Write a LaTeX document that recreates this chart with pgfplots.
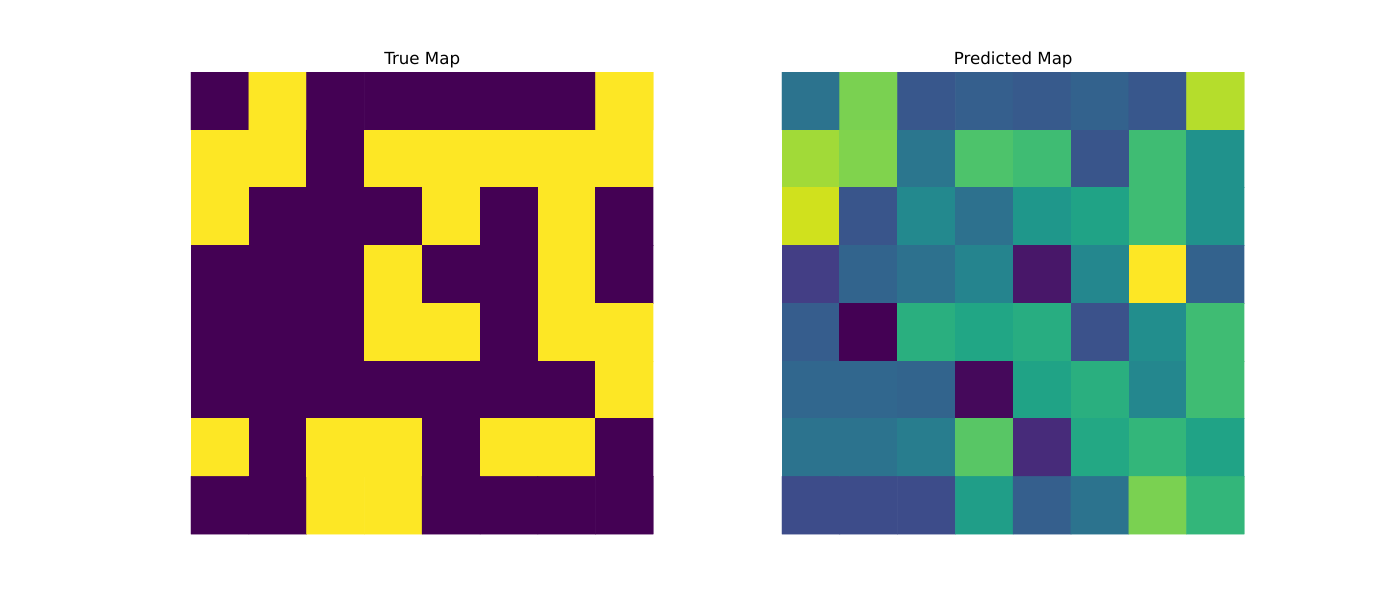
\documentclass[border=0pt]{standalone}
\usepackage{pgfplots}
\pgfplotsset{compat=1.18}
\usepackage{fontspec}
\setmainfont{DejaVu Sans}

% true (binary) map, row 0 at top
\pgfplotstableread{
x y c
0 0 0
1 0 1
2 0 0
3 0 0
4 0 0
5 0 0
6 0 0
7 0 1
0 1 1
1 1 1
2 1 0
3 1 1
4 1 1
5 1 1
6 1 1
7 1 1
0 2 1
1 2 0
2 2 0
3 2 0
4 2 1
5 2 0
6 2 1
7 2 0
0 3 0
1 3 0
2 3 0
3 3 1
4 3 0
5 3 0
6 3 1
7 3 0
0 4 0
1 4 0
2 4 0
3 4 1
4 4 1
5 4 0
6 4 1
7 4 1
0 5 0
1 5 0
2 5 0
3 5 0
4 5 0
5 5 0
6 5 0
7 5 1
0 6 1
1 6 0
2 6 1
3 6 1
4 6 0
5 6 1
6 6 1
7 6 0
0 7 0
1 7 0
2 7 1
3 7 1
4 7 0
5 7 0
6 7 0
7 7 0
}\truemap

% predicted map
\pgfplotstableread{
x y c
0 0 0.38
1 0 0.80
2 0 0.27
3 0 0.30
4 0 0.28
5 0 0.31
6 0 0.27
7 0 0.89
0 1 0.86
1 1 0.81
2 1 0.39
3 1 0.72
4 1 0.69
5 1 0.26
6 1 0.69
7 1 0.51
0 2 0.93
1 2 0.26
2 2 0.47
3 2 0.37
4 2 0.53
5 2 0.58
6 2 0.69
7 2 0.51
0 3 0.18
1 3 0.32
2 3 0.37
3 3 0.45
4 3 0.06
5 3 0.46
6 3 1.00
7 3 0.31
0 4 0.29
1 4 0.00
2 4 0.63
3 4 0.59
4 4 0.62
5 4 0.25
6 4 0.49
7 4 0.69
0 5 0.33
1 5 0.33
2 5 0.32
3 5 0.02
4 5 0.58
5 5 0.63
6 5 0.46
7 5 0.69
0 6 0.38
1 6 0.38
2 6 0.42
3 6 0.74
4 6 0.12
5 6 0.60
6 6 0.66
7 6 0.58
0 7 0.23
1 7 0.23
2 7 0.23
3 7 0.56
4 7 0.30
5 7 0.38
6 7 0.80
7 7 0.66
}\predmap

\pgfplotsset{
  heat/.style={
    scale only axis,
    hide axis,
    colormap/viridis,
    point meta min=0,
    point meta max=1,
    xmin=-0.5, xmax=7.5,
    ymin=-0.5, ymax=7.5,
    y dir=reverse,
    enlargelimits=false,
    anchor=south west,
    width=333pt, height=332.6pt,
    title style={at={(0.5,1)}, anchor=base, yshift=-0.5pt, font=\fontsize{12}{14}\selectfont},
  },
}

\begin{document}
\begin{tikzpicture}
\path (0pt,0pt) rectangle (1008pt,432pt);

\begin{axis}[heat, at={(137.5pt,47.5pt)}, title={True Map}]
\addplot[matrix plot*, mesh/cols=8, point meta=explicit] table[meta=c] {\truemap};
\end{axis}

\begin{axis}[heat, at={(563pt,47.5pt)}, title={Predicted Map}]
\addplot[matrix plot*, mesh/cols=8, point meta=explicit] table[meta=c] {\predmap};
\end{axis}
\end{tikzpicture}
\end{document}
